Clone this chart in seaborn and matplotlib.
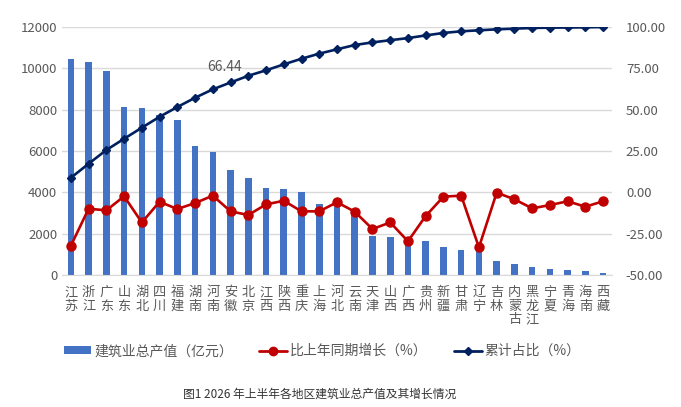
import numpy as np
import pandas as pd
import matplotlib
matplotlib.use('Agg')
import matplotlib.pyplot as plt
import seaborn as sns
from matplotlib.lines import Line2D
from matplotlib.patches import Patch

# data
regions = ['江苏', '浙江', '广东', '山东', '湖北', '四川', '福建', '湖南', '河南', '安徽',
           '北京', '江西', '陕西', '重庆', '上海', '河北', '云南', '天津', '山西', '广西',
           '贵州', '新疆', '甘肃', '辽宁', '吉林', '内蒙古', '黑龙江', '宁夏', '青海', '海南', '西藏']
output_value = [10450, 10290, 9870, 8130, 8060, 7750, 7480, 6230, 5970, 5080,
                4690, 4190, 4160, 4020, 3440, 3270, 3000, 1900, 1820, 1700,
                1650, 1360, 1210, 1300, 690, 530, 390, 290, 240, 190, 100]
growth = [-32.3, -9.9, -10.9, -2.4, -18.2, -5.7, -10.1, -6.5, -2.0, -11.5,
          -13.7, -7.3, -5.1, -11.5, -11.5, -6.0, -11.7, -22.2, -18.2, -29.6,
          -14.3, -2.6, -2.0, -33.3, -0.2, -4.2, -9.7, -7.7, -5.4, -8.7, -5.4]
cum_share = [8.8, 17.3, 25.6, 32.4, 39.1, 45.7, 51.6, 57.2, 62.3, 66.44,
             70.5, 73.8, 77.4, 80.8, 83.9, 86.5, 89.1, 90.7, 92.0, 93.3,
             94.9, 96.4, 97.4, 98.0, 98.6, 99.0, 99.4, 99.6, 99.7, 99.8, 100.0]

df = pd.DataFrame({'region': regions, 'value': output_value,
                   'growth': growth, 'cum': cum_share})

sns.set_style('white')
plt.rcParams['font.family'] = ['Noto Sans CJK SC', 'DejaVu Sans']

bar_color = '#4472C4'
red = '#C00000'
navy = '#002060'
grey = '#595959'

fig = plt.figure(figsize=(6.81, 4.07), dpi=100)
ax = fig.add_axes([62 / 681, 1 - 275 / 407, 550 / 681, 248 / 407])

sns.barplot(data=df, x='region', y='value', color=bar_color, width=0.37,
            saturation=1, linewidth=0, ax=ax)
ax.set_ylim(0, 12000)
ax.set_yticks(np.arange(0, 12001, 2000))
ax.set_xlim(-0.5, len(regions) - 0.5)
ax.grid(axis='y', color='#D9D9D9', linewidth=1)
ax.set_axisbelow(True)
ax.set_xlabel('')
ax.set_ylabel('')
ax.set_xticks(range(len(regions)))
ax.set_xticklabels(['\n'.join(r) for r in regions], fontsize=9.5, color=grey,
                   linespacing=1.05, va='top')
ax.tick_params(axis='both', length=0, labelsize=9.5, labelcolor=grey)
ax.tick_params(axis='x', pad=8)
for s in ['top', 'right', 'left']:
    ax.spines[s].set_visible(False)
ax.spines['bottom'].set_color('#D9D9D9')

ax2 = ax.twinx()
ax2.plot(range(len(regions)), df['cum'], color=navy, marker='D', markersize=4.5,
         linewidth=1.9)
ax2.plot(range(len(regions)), df['growth'], color=red, marker='o', markersize=6.5,
         linewidth=1.9)
ax2.set_ylim(-50, 100)
ax2.set_yticks(np.arange(-50, 101, 25))
ax2.set_yticklabels([f'{v:.2f}' for v in np.arange(-50, 101, 25)])
ax2.tick_params(axis='y', length=0, labelsize=9.5, labelcolor=grey, pad=10)
for s in ['top', 'right', 'left', 'bottom']:
    ax2.spines[s].set_visible(False)

ax2.annotate(f'{cum_share[9]:.2f}', xy=(9, cum_share[9]), xytext=(-4, 6),
             textcoords='offset points', ha='center', va='bottom',
             fontsize=10, color=grey)

handles = [Patch(facecolor=bar_color, edgecolor='none'),
           Line2D([], [], color=red, marker='o', markersize=6, linewidth=2),
           Line2D([], [], color=navy, marker='D', markersize=4.5, linewidth=2)]
labels = ['建筑业总产值（亿元）', '比上年同期增长（%）', '累计占比（%）']
leg = fig.legend(handles, labels, loc='center', bbox_to_anchor=(322 / 681, 1 - 351 / 407),
                 ncol=3, frameon=False, fontsize=10, handlelength=2.0,
                 handleheight=0.5, columnspacing=1.9, handletextpad=0.2)
for t in leg.get_texts():
    t.set_color(grey)

fig.text(320 / 681, 1 - 394 / 407, '图1 2026 年上半年各地区建筑业总产值及其增长情况',
         ha='center', va='center', fontsize=8.5, color='#333333')

fig.savefig('out.png', dpi=100)
